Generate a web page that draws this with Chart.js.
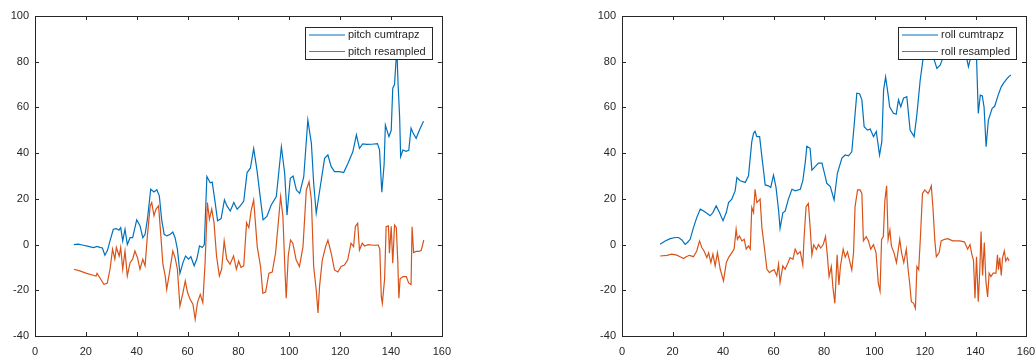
<!DOCTYPE html>
<html lang="en">
<head>
    <meta charset="UTF-8">
    <title>Pitch / Roll</title>
    <script src="https://cdn.jsdelivr.net/npm/chart.js"></script>
    <style>
        body {
            margin: 0;
            background: #fff;
            overflow: hidden;
            width: 1035px;
            height: 356px;
            position: relative;
        }

        .plot {
            position: absolute;
            top: 0;
        }

        #pitchPlot { left: 0; }
        #rollPlot { left: 580px; }
    </style>
</head>
<body>
    <canvas id="pitchPlot" class="plot" width="460" height="356"></canvas>
    <canvas id="rollPlot" class="plot" width="470" height="356"></canvas>

    <script>
        // axes
        const xTicks = [0, 20, 40, 60, 80, 100, 120, 140, 160];
        const yTicks = [-40, -20, 0, 20, 40, 60, 80, 100];

        // pitch: integrated rate vs resampled angle
        const pitchCumX = [15.3, 17, 19, 21, 23, 24.5, 25.5, 26.5, 27.5, 28.5, 29.5, 30.8, 32, 33, 33.7, 34.5, 35.4, 36.3, 37.4, 38.4,
            40, 41.3, 42.4, 43.3, 44.3, 45.5, 46.8, 47.9, 48.9, 49.8, 50.8, 51.8, 53.2, 54.2, 55.1, 56, 57, 58.2, 59.2, 60.4,
            61.3, 62.6, 63.7, 64.7, 65.8, 66.6, 67.6, 68.9, 69.7, 70.9, 71.8, 73.2, 74.5, 75.5, 76.8, 78.2, 79.5, 80.8, 82.1, 83.4,
            84.7, 86, 87.3, 88.4, 89.7, 91.2, 92.9, 94.9, 96.9, 98.2, 99.1, 100.4, 101.5, 102.8, 104.1, 105.7, 107.3, 108.7, 109.6, 110.6,
            112.2, 113.9, 115.2, 116.5, 117.8, 119.8, 121.4, 123.1, 125, 126.4, 127.6, 128.9, 130.5, 132.5, 134.7, 135.5, 136.4, 137.3, 137.8, 139.2,
            140.1, 140.7, 141.4, 142.3, 142.8, 143.4, 143.8, 144.7, 145.9, 147, 147.9, 148.6, 149.9, 151.2, 152.8];
        const pitchCum = [0, 0.2, -0.3, -0.8, -1.3, -0.8, -1.2, -1.5, -4.7, -2.5, 1.6, 6.7, 7, 6.3, 7.4, 1.6, 6.7, 0, 3, 3,
            10.8, 8.2, 3, 4.5, 11.8, 24.2, 23, 24, 21.3, 11, 4.5, 3.8, 4.5, 5.5, 3, -2, -12.6, -7.9, -5, -6.4,
            -5.3, -9.3, -6.1, -0.6, -1.3, 0, 29.8, 27, 27.3, 18, 10.4, 11.4, 19.6, 16.9, 14.7, 18.4, 15.5, 17, 19, 31.5,
            33.4, 42, 32.6, 22.4, 10.8, 12.3, 17.3, 21, 42.8, 31.2, 12.9, 29, 30, 23.9, 22.4, 29.7, 54.5, 44.3, 26.8, 13.7,
            25.4, 37.7, 39.2, 34.1, 31.9, 31.9, 31.5, 35.6, 40.6, 48, 42.1, 44, 43.8, 43.9, 44.2, 41.4, 22.9, 35, 52.3, 47.2,
            50, 68.4, 70, 86, 70, 56, 38.5, 41.4, 40.8, 41.2, 50.9, 49, 46.5, 50.1, 54];

        const pitchResX = [15.3, 17.6, 20.3, 22.9, 24, 24.4, 25.5, 27.1, 28.4, 29.5, 30.5, 31.4, 32, 33.1, 33.7, 34.5, 35.4, 36.3, 37.4, 38.4,
            39.3, 40.3, 41.3, 42.4, 43.3, 44.2, 45.3, 45.9, 46.8, 47.6, 48.6, 49.5, 50.3, 51.2, 51.8, 52.9, 54.2, 55.1, 56, 57,
            58.2, 59.1, 60, 61, 62.1, 63, 63.9, 65, 66, 66.9, 67.8, 68.6, 69.5, 70.4, 71.4, 72.5, 73.4, 74.4, 75.4, 76.7,
            78.1, 79.2, 80.1, 81, 82.1, 83.2, 84.1, 85, 86, 87.4, 88.7, 89.6, 90.7, 92, 93.3, 94.6, 95.9, 96.6, 97.5, 98.3,
            98.8, 99.6, 100.5, 101.4, 102.7, 104, 105.4, 106.7, 107.8, 108.7, 109.6, 110.6, 111.3, 111.9, 113, 114.3, 115.2, 116.5, 117.8, 119.1,
            120.4, 121.7, 123, 124.3, 125.3, 126, 126.9, 127.6, 128.7, 129.6, 131, 133, 135, 135.6, 136.2, 136.6, 137.5, 138.1, 139, 139.4,
            140.1, 140.7, 141.4, 142.1, 142.7, 143.1, 143.6, 144.7, 146, 147, 147.9, 148.3, 148.9, 149.9, 151, 151.9, 152.9];
        const pitchRes = [-10.8, -11.5, -12.6, -13.4, -13.8, -12.6, -14.5, -17.4, -16.9, -10.8, -2, -6.4, -1.3, -5, -1.3, -10.8, -2.8, -13.7, -7.9, -6.4,
            -2.8, -5.7, -10.8, -6.4, -9.3, 3.8, 16.9, 18.4, 12.6, 15.5, 16.9, 3.8, -8.6, -13.7, -19.6, -12.3, -2.8, -5.7, -10.8, -26.9,
            -21, -15.9, -21, -23.9, -26.1, -32.7, -25.4, -21.8, -25.4, -7.9, 18.4, 11.1, 15.5, 9.6, -5, -13.7, -10.8, 1.6, -6.4, -8.6,
            -5, -10.8, -7.2, -10, -9.3, 9.6, 7.4, 14.7, 19.5, -0.9, -9.6, -21.3, -20.8, -12.5, -12, -3.8, 12.3, 21, 12.3, -11.1,
            -23.5, -5, 2, 0.6, -6.7, -9.6, -0.9, 23.9, 27.5, 19.5, -9.6, -19.9, -29.9, -18.4, -6.7, -0.9, 2, -3.8, -11.1, -12,
            -9.6, -9, -6.7, 0.6, -0.9, 7.9, 9.3, -2.4, 0.6, -0.6, 0, -0.3, -0.2, -2, -22.8, -25.7, -15, 7.8, 8.2, -3.8,
            8, -8.2, 8.6, 7.5, -8, -23.5, -15, -14, -14, -16.9, -17.5, 7.8, -3.5, -3, -3, -2.5, 2];

        // roll: integrated rate vs resampled angle
        const rollCumX = [15.1, 17.1, 19.1, 21.1, 22.4, 23.7, 25, 25.9, 27, 28.3, 29.6, 31, 32.3, 33.6, 34.9, 36, 37.3, 38.6, 40, 41.3,
            42.2, 43.5, 44.8, 45.5, 46.8, 48.8, 50.1, 51.4, 52.1, 52.7, 53.4, 54.5, 55.4, 56.2, 56.7, 58, 58.9, 60, 61, 62,
            62.6, 63.7, 64.6, 65.9, 67.3, 68.6, 70.6, 71.6, 72.6, 73.2, 74.5, 75.2, 76.5, 77.8, 79.2, 80.5, 81.1, 82.5, 84, 85.3,
            87.1, 88.4, 89.7, 91, 92, 93, 94.1, 95, 95.9, 97.2, 98.3, 99.6, 100.7, 102, 102.9, 103.6, 104.4, 105.5, 106, 107.5,
            108.6, 109.5, 110.4, 111.5, 112.8, 114.1, 115.7, 116.8, 118.1, 119.2, 120.3, 121.5, 122.7, 123.6, 124.7, 126, 127.2, 128.5, 130, 131.5,
            133, 134.5, 135.8, 136.6, 137.2, 137.9, 139, 140.4, 141.1, 141.9, 142.7, 143.4, 144.2, 145.1, 146.6, 147.6, 149.1, 150.2, 151.1, 152.4,
            153.3, 154];
        const rollCum = [0.1, 1.6, 2.6, 3.1, 3.1, 2, 0.1, 0.9, 2.3, 7.4, 11.8, 15.5, 14.7, 13.7, 12.6, 14, 16.9, 14, 10.4, 14,
            18.4, 19.9, 23.5, 29.3, 27.9, 27.2, 30.1, 45, 48.7, 49.6, 47.2, 47.2, 38.5, 31, 26.1, 25.7, 25, 30.4, 25, 15.1,
            7.1, 13.9, 14.6, 19.9, 24.2, 23.5, 24.2, 27.9, 36.2, 43, 42.1, 32.6, 34.1, 35.6, 35.6, 29.7, 26.8, 25.4, 19.5, 31.2,
            37.8, 39.2, 38.8, 40.6, 53, 66.2, 66, 63.3, 51.6, 50.1, 50.6, 47.2, 49.5, 39.2, 45, 67.6, 73.4, 64.7, 60.3, 57.4,
            57, 63.3, 60.3, 64, 64.7, 50.1, 47.2, 57, 72, 81, 87, 89, 86, 81, 77.1, 78.5, 82, 86, 88, 87,
            86, 89, 85, 81, 77.8, 81, 88, 82, 57.4, 65.4, 65, 60, 42.8, 54.5, 59.6, 60.5, 65.8, 69, 70.6, 72.5,
            73.6, 74.2];

        const rollResX = [15.1, 17.8, 19.7, 21.7, 23, 24.4, 25.4, 26.7, 28.3, 29.6, 30.7, 31.6, 32.5, 33.6, 34.3, 35.2, 36, 36.9, 37.8, 38.9,
            40.2, 41.3, 42.2, 43.5, 44.4, 45.2, 45.7, 46.5, 47.5, 48.4, 49.2, 50.1, 50.8, 51.4, 52.1, 52.7, 53.4, 54.1, 54.7, 55.4,
            56.3, 57.4, 58.4, 59.3, 60.3, 61.3, 62, 62.6, 63.7, 64.6, 65.5, 66.6, 67.7, 68.6, 69.5, 70.6, 71.6, 72.1, 72.9, 73.8,
            74.5, 75.2, 75.9, 77, 77.8, 78.7, 79.7, 80.6, 81.3, 82, 82.9, 83.5, 84.3, 85.2, 85.9, 86.5, 87.6, 88.4, 89.3, 90.1,
            91, 91.7, 92.3, 93.3, 94.3, 95, 95.6, 96.7, 97.6, 98.5, 99.6, 100.6, 101.5, 102.2, 102.8, 103.5, 104.1, 104.8, 105.4, 106.1,
            106.7, 107.7, 108.7, 110, 110.7, 111.6, 112.6, 113.3, 113.9, 114.6, 115.5, 116.2, 116.8, 117.5, 118.2, 119, 119.9, 121.2, 121.9, 122.5,
            123.2, 123.9, 124.5, 125.6, 126.4, 127.7, 129, 131, 133.7, 135.6, 136.9, 137.8, 138.6, 139.2, 139.8, 140.4, 141.1, 141.7, 142.2, 142.8,
            143.5, 144.1, 144.8, 145.4, 146.1, 147, 148.1, 148.7, 149.1, 149.6, 150.2, 150.7, 151.4, 152, 152.7, 153.3];
        const rollRes = [-5, -4.7, -4.2, -4.6, -5.3, -6.1, -5.3, -4.7, -5.3, -2.8, 1.6, -1.3, -2.8, -5.7, -3.6, -7.9, -4.2, -9.3, -3.5, -10.8,
            -15.9, -7.9, -5.7, -3.5, -2, 6.7, 2.3, 3.8, 1.6, 2.3, -2, -0.6, -2, 16.2, 14, 24.2, 18.4, 19.1, 19.9, 7.4,
            -0.6, -10.8, -12.3, -11.5, -11, -13.7, -8.6, -16.6, -9.3, -10.8, -8.6, -5.7, -6.4, -2, -4.2, -3.1, -8.9, 2.8, 16.6, 18,
            7.8, -4.5, -0.1, -2.1, 0, -1.5, 0, 3.5, -4.5, -14, -9.6, -18.4, -25.7, -4.5, -17.7, -9.6, -2, -5.5, -3.2, -6.9,
            -11.1, -3.5, 16.6, 23.9, 23.9, 22.4, 1.6, 3.5, 1.6, -2, 0, -3.5, -16.9, -20.3, 2.3, 3.5, 19.1, 25.7, 2.3, 6.4,
            -0.7, -3.5, -7.9, 2.3, -3.5, -7.9, -2, -10.8, -16.6, -25, -25.7, -27.9, -9.6, -11, 3.5, 22.4, 23.9, 22.4, 23.9, 25.7,
            15.1, 1.6, -5.3, -3.5, 1.6, 2.3, 2.6, 1.6, 1.6, 1.2, -2, 0, -4.5, -6.9, -23.5, -5.3, -25, -11.1, 5.7, -13.5,
            0.9, -15.8, -22.9, -12.5, -14, -12.5, -12.5, -4.5, -11, -5.8, -13.5, -5.8, -2.8, -7.2, -5.8, -7.2];

        const seriesColors = ['#0072BD', '#D95319'];
        const axisColor = '#262626';

        Chart.defaults.font.family = "'Liberation Sans', Arial, Helvetica, sans-serif";
        Chart.defaults.font.size = 11;
        Chart.defaults.color = axisColor;

        function toPoints(xs, ys) {
            return xs.map((x, i) => ({ x: x, y: ys[i] }));
        }

        // box around the plot area with inward tick marks on all four sides
        const boxAxes = {
            id: 'boxAxes',
            afterDatasetsDraw(chart) {
                const { ctx, chartArea: a, scales } = chart;
                const len = 4;
                ctx.save();
                ctx.strokeStyle = axisColor;
                ctx.lineWidth = 1;
                ctx.beginPath();
                xTicks.forEach(v => {
                    const px = Math.round(scales.x.getPixelForValue(v)) + 0.5;
                    ctx.moveTo(px, a.bottom);
                    ctx.lineTo(px, a.bottom - len);
                    ctx.moveTo(px, a.top);
                    ctx.lineTo(px, a.top + len);
                });
                yTicks.forEach(v => {
                    const py = Math.round(scales.y.getPixelForValue(v)) + 0.5;
                    ctx.moveTo(a.left, py);
                    ctx.lineTo(a.left + len, py);
                    ctx.moveTo(a.right, py);
                    ctx.lineTo(a.right - len, py);
                });
                ctx.stroke();
                ctx.strokeRect(Math.round(a.left) + 0.5, Math.round(a.top) + 0.5,
                    Math.round(a.right - a.left), Math.round(a.bottom - a.top));
                ctx.restore();
            }
        };

        // legend box in the upper right corner, drawn over the lines
        const cornerLegend = {
            id: 'cornerLegend',
            afterDraw(chart) {
                const { ctx, chartArea: a } = chart;
                const sets = chart.data.datasets;
                ctx.save();
                ctx.font = "11px 'Liberation Sans', Arial, sans-serif";
                const textW = Math.max(...sets.map(d => ctx.measureText(d.label).width));
                const lineLen = 36;
                const w = Math.round(4 + lineLen + 3 + textW + 6);
                const h = 32;
                const right = Math.round(a.right) - 10;
                const top = Math.round(a.top) + 11;
                const left = right - w;
                ctx.fillStyle = '#fff';
                ctx.fillRect(left, top, w, h);
                ctx.strokeStyle = axisColor;
                ctx.lineWidth = 1;
                ctx.strokeRect(left + 0.5, top + 0.5, w, h);
                sets.forEach((d, i) => {
                    const cy = top + 8 + i * 16.5;
                    ctx.strokeStyle = d.borderColor;
                    ctx.lineWidth = 1.2;
                    ctx.beginPath();
                    ctx.moveTo(left + 4, cy);
                    ctx.lineTo(left + 4 + lineLen, cy);
                    ctx.stroke();
                    ctx.fillStyle = axisColor;
                    ctx.textBaseline = 'middle';
                    ctx.fillText(d.label, left + 4 + lineLen + 3, cy);
                });
                ctx.restore();
            }
        };

        function makePlot(canvasId, labels, cumX, cum, resX, res, yAxisWidth, padRight) {
            const ctx = document.getElementById(canvasId).getContext('2d');
            return new Chart(ctx, {
                type: 'line',
                data: {
                    datasets: [{
                        label: labels[0],
                        data: toPoints(cumX, cum),
                        borderColor: seriesColors[0],
                        borderWidth: 1.2,
                        pointRadius: 0,
                        tension: 0,
                        order: 2
                    }, {
                        label: labels[1],
                        data: toPoints(resX, res),
                        borderColor: seriesColors[1],
                        borderWidth: 1.2,
                        pointRadius: 0,
                        tension: 0,
                        order: 1
                    }]
                },
                options: {
                    responsive: false,
                    animation: false,
                    events: [],
                    layout: { padding: { top: 16, right: padRight, left: 0, bottom: 0 } },
                    plugins: {
                        legend: { display: false },
                        tooltip: { enabled: false }
                    },
                    scales: {
                        x: {
                            type: 'linear',
                            min: 0,
                            max: 160,
                            afterBuildTicks: s => { s.ticks = xTicks.map(v => ({ value: v })); },
                            afterFit: s => { s.height = 20; },
                            grid: { display: false, drawTicks: false },
                            border: { display: false },
                            ticks: { padding: 9, maxRotation: 0, autoSkip: false }
                        },
                        y: {
                            type: 'linear',
                            min: -40,
                            max: 100,
                            afterBuildTicks: s => { s.ticks = yTicks.map(v => ({ value: v })); },
                            afterFit: s => { s.width = yAxisWidth; },
                            grid: { display: false, drawTicks: false },
                            border: { display: false },
                            ticks: { padding: 6, autoSkip: false }
                        }
                    }
                },
                plugins: [boxAxes, cornerLegend]
            });
        }

        makePlot('pitchPlot', ['pitch cumtrapz', 'pitch resampled'], pitchCumX, pitchCum, pitchResX, pitchRes, 35, 18);
        makePlot('rollPlot', ['roll cumtrapz', 'roll resampled'], rollCumX, rollCum, rollResX, rollRes, 42, 24);
    </script>
</body>
</html>
